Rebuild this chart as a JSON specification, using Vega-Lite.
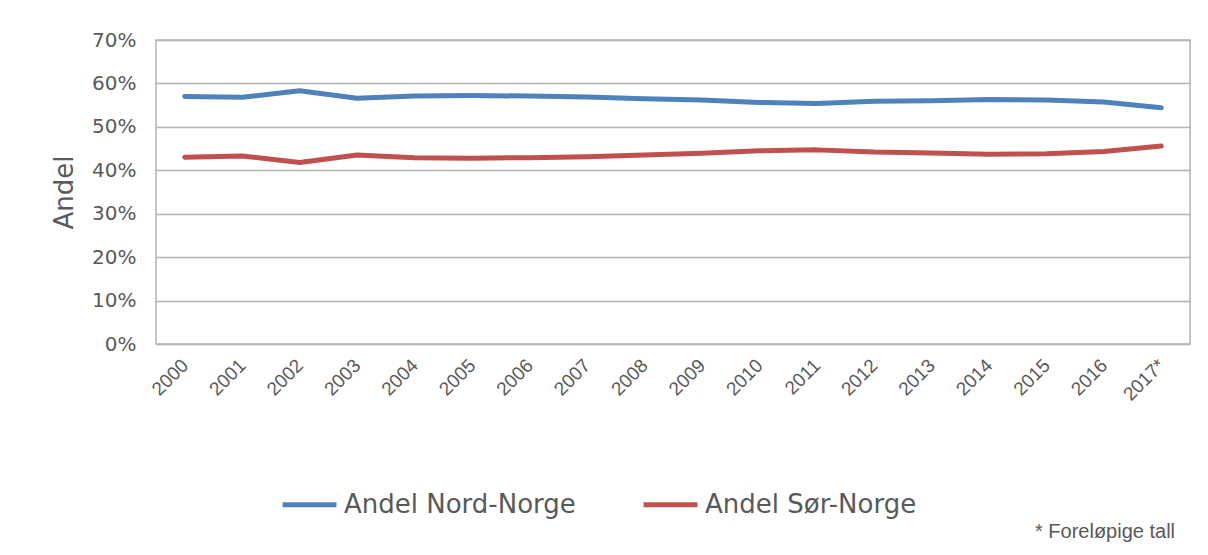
{
  "$schema": "https://vega.github.io/schema/vega-lite/v6.json",
  "autosize": "none",
  "width": 1034,
  "height": 304,
  "padding": {"left": 156, "top": 40, "right": 18, "bottom": 211},
  "background": "white",
  "title": {
    "text": "* Foreløpige tall",
    "orient": "bottom",
    "anchor": "start",
    "frame": "group",
    "dx": 879,
    "offset": 4,
    "baseline": "top",
    "font": "Liberation Sans",
    "fontSize": 20,
    "fontWeight": "normal",
    "color": "#595959"
  },
  "data": {
    "values": [
      {"år": "2000", "serie": "Andel Nord-Norge", "andel": 0.570},
      {"år": "2001", "serie": "Andel Nord-Norge", "andel": 0.568},
      {"år": "2002", "serie": "Andel Nord-Norge", "andel": 0.583},
      {"år": "2003", "serie": "Andel Nord-Norge", "andel": 0.566},
      {"år": "2004", "serie": "Andel Nord-Norge", "andel": 0.571},
      {"år": "2005", "serie": "Andel Nord-Norge", "andel": 0.572},
      {"år": "2006", "serie": "Andel Nord-Norge", "andel": 0.571},
      {"år": "2007", "serie": "Andel Nord-Norge", "andel": 0.569},
      {"år": "2008", "serie": "Andel Nord-Norge", "andel": 0.565},
      {"år": "2009", "serie": "Andel Nord-Norge", "andel": 0.562},
      {"år": "2010", "serie": "Andel Nord-Norge", "andel": 0.556},
      {"år": "2011", "serie": "Andel Nord-Norge", "andel": 0.554},
      {"år": "2012", "serie": "Andel Nord-Norge", "andel": 0.559},
      {"år": "2013", "serie": "Andel Nord-Norge", "andel": 0.560},
      {"år": "2014", "serie": "Andel Nord-Norge", "andel": 0.563},
      {"år": "2015", "serie": "Andel Nord-Norge", "andel": 0.562},
      {"år": "2016", "serie": "Andel Nord-Norge", "andel": 0.557},
      {"år": "2017*", "serie": "Andel Nord-Norge", "andel": 0.544},
      {"år": "2000", "serie": "Andel Sør-Norge", "andel": 0.430},
      {"år": "2001", "serie": "Andel Sør-Norge", "andel": 0.433},
      {"år": "2002", "serie": "Andel Sør-Norge", "andel": 0.418},
      {"år": "2003", "serie": "Andel Sør-Norge", "andel": 0.435},
      {"år": "2004", "serie": "Andel Sør-Norge", "andel": 0.429},
      {"år": "2005", "serie": "Andel Sør-Norge", "andel": 0.428},
      {"år": "2006", "serie": "Andel Sør-Norge", "andel": 0.429},
      {"år": "2007", "serie": "Andel Sør-Norge", "andel": 0.431},
      {"år": "2008", "serie": "Andel Sør-Norge", "andel": 0.435},
      {"år": "2009", "serie": "Andel Sør-Norge", "andel": 0.439},
      {"år": "2010", "serie": "Andel Sør-Norge", "andel": 0.445},
      {"år": "2011", "serie": "Andel Sør-Norge", "andel": 0.447},
      {"år": "2012", "serie": "Andel Sør-Norge", "andel": 0.442},
      {"år": "2013", "serie": "Andel Sør-Norge", "andel": 0.440},
      {"år": "2014", "serie": "Andel Sør-Norge", "andel": 0.437},
      {"år": "2015", "serie": "Andel Sør-Norge", "andel": 0.438},
      {"år": "2016", "serie": "Andel Sør-Norge", "andel": 0.443},
      {"år": "2017*", "serie": "Andel Sør-Norge", "andel": 0.456}
    ]
  },
  "mark": {"type": "line", "strokeWidth": 5, "interpolate": "linear", "strokeCap": "round", "strokeJoin": "round"},
  "encoding": {
    "x": {
      "field": "år",
      "type": "ordinal",
      "sort": null,
      "scale": {"type": "point", "padding": 0.5},
      "axis": {
        "title": null,
        "labelAngle": -45,
        "labelAlign": "right",
        "labelBaseline": "middle",
        "labelPadding": 18,
        "ticks": false,
        "grid": false,
        "domain": false,
        "labelFont": "Liberation Sans",
        "labelFontSize": 19,
        "labelColor": "#595959"
      }
    },
    "y": {
      "field": "andel",
      "type": "quantitative",
      "scale": {"domain": [0, 0.7], "nice": false},
      "axis": {
        "title": "Andel",
        "titleFont": "DejaVu Sans",
        "titleFontSize": 26,
        "titleFontWeight": "normal",
        "titleColor": "#595959",
        "titlePadding": 14,
        "values": [0, 0.1, 0.2, 0.3, 0.4, 0.5, 0.6, 0.7],
        "format": ".0%",
        "labelFont": "DejaVu Sans",
        "labelFontSize": 20,
        "labelColor": "#595959",
        "labelPadding": 20,
        "ticks": false,
        "domain": false,
        "grid": true,
        "gridColor": "#b3b3b3",
        "gridWidth": 1.5
      }
    },
    "color": {
      "field": "serie",
      "type": "nominal",
      "scale": {"domain": ["Andel Nord-Norge", "Andel Sør-Norge"], "range": ["#4F81BD", "#C0504D"]},
      "legend": {
        "title": null,
        "orient": "none",
        "legendX": 124,
        "legendY": 435,
        "direction": "horizontal",
        "symbolType": "stroke",
        "symbolSize": 2900,
        "symbolStrokeWidth": 5,
        "labelFont": "DejaVu Sans",
        "labelFontSize": 26,
        "labelColor": "#595959",
        "labelOffset": 5,
        "labelLimit": 400,
        "columnPadding": 57
      }
    }
  },
  "config": {
    "view": {"stroke": "#b3b3b3", "strokeWidth": 1.5}
  }
}
